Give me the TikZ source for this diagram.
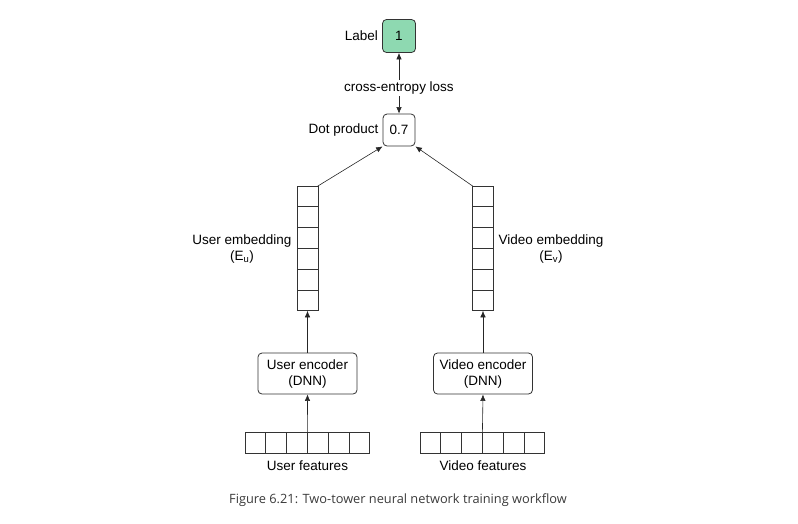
\documentclass[tikz,border=0pt]{standalone}
\usepackage{fontspec}
\setmainfont{Liberation Sans}
\newfontfamily\capfont{Open Sans}
\usetikzlibrary{calc}
\usetikzlibrary{arrows.meta}

\definecolor{linegray}{HTML}{333333}
\definecolor{labelgreen}{HTML}{8ED9B1}
\definecolor{captiongray}{HTML}{3A3A3A}

\tikzset{
	cell/.style={draw=linegray, line width=0.8pt, minimum width=20.8pt, minimum height=20.8pt, inner sep=0pt, outer sep=0pt},
	rbox/.style={draw=linegray, line width=0.8pt, rounded corners=4pt, inner sep=0pt, align=center},
	arr/.style={-{Latex[length=6.5pt,width=5.5pt]}, line width=0.6pt, draw=black!85},
	txt/.style={font=\fontsize{13.5}{16}\selectfont, inner sep=2pt, align=center}
}

\begin{document}
\begin{tikzpicture}[x=1pt,y=-1pt]
			\useasboundingbox (0,0) rectangle (798,523);

			% top: label and dot product
			\node[rbox, fill=labelgreen, minimum width=33pt, minimum height=33pt, txt] (lblbox) at (399,36) {1};
			\node[txt, anchor=east] (lbltxt) at ($(lblbox.west)+(-2,0)$) {Label};
			\node[txt] (ce) at (399,88) {cross-entropy loss};
			\node[rbox, minimum width=32pt, minimum height=32pt, txt] (dot) at (399,130) {0.7};
			\node[txt, anchor=east] (dottxt) at ($(dot.west)+(-2,0)$) {Dot product};

			% embeddings
			\foreach \i in {1,...,6}{
				\node[cell] (ue\i) at (307.5,{175.6+20.8*\i}) {};
				\node[cell] (ve\i) at (483,{175.6+20.8*\i}) {};
			}
			\node[txt] (uetxt) at (242,249) {User embedding\\(E\textsubscript{u})};
			\node[txt] (vetxt) at (551,249) {Video embedding\\(E\textsubscript{v})};

			% encoders
			\node[rbox, minimum width=99pt, minimum height=41pt, txt] (uenc) at (307.5,373.5) {User encoder\\(DNN)};
			\node[rbox, minimum width=99pt, minimum height=41pt, txt] (venc) at (483,373.5) {Video encoder\\(DNN)};

			% features
			\foreach \i in {1,...,6}{
				\node[cell] (uf\i) at ({234.6+20.8*\i},442.5) {};
				\node[cell] (vf\i) at ({409.6+20.8*\i},442.5) {};
			}
			\node[txt] (uftxt) at (307.5,466) {User features};
			\node[txt] (vftxt) at (483,466) {Video features};

			\node[font=\capfont\fontsize{12.8}{15}\selectfont, text=captiongray] (cap) at (398,500) {Figure 6.21: Two-tower neural network training workflow};

			\draw[arr] (ce.north) -- (lblbox.south);
			\draw[arr] (ce.south) -- (dot.north);
			\draw[arr] (ue1.north east) -- (dot.south west);
			\draw[arr] (ve1.north west) -- (dot.south east);

			\draw[arr] (uenc.north) -- (ue6.south);
			\draw[arr] (venc.north) -- (ve6.south);
			\draw[arr] (uf3.north east) -- (uenc.south);
			\draw[arr] (vf3.north east) -- (venc.south);

		\end{tikzpicture}
\end{document}
